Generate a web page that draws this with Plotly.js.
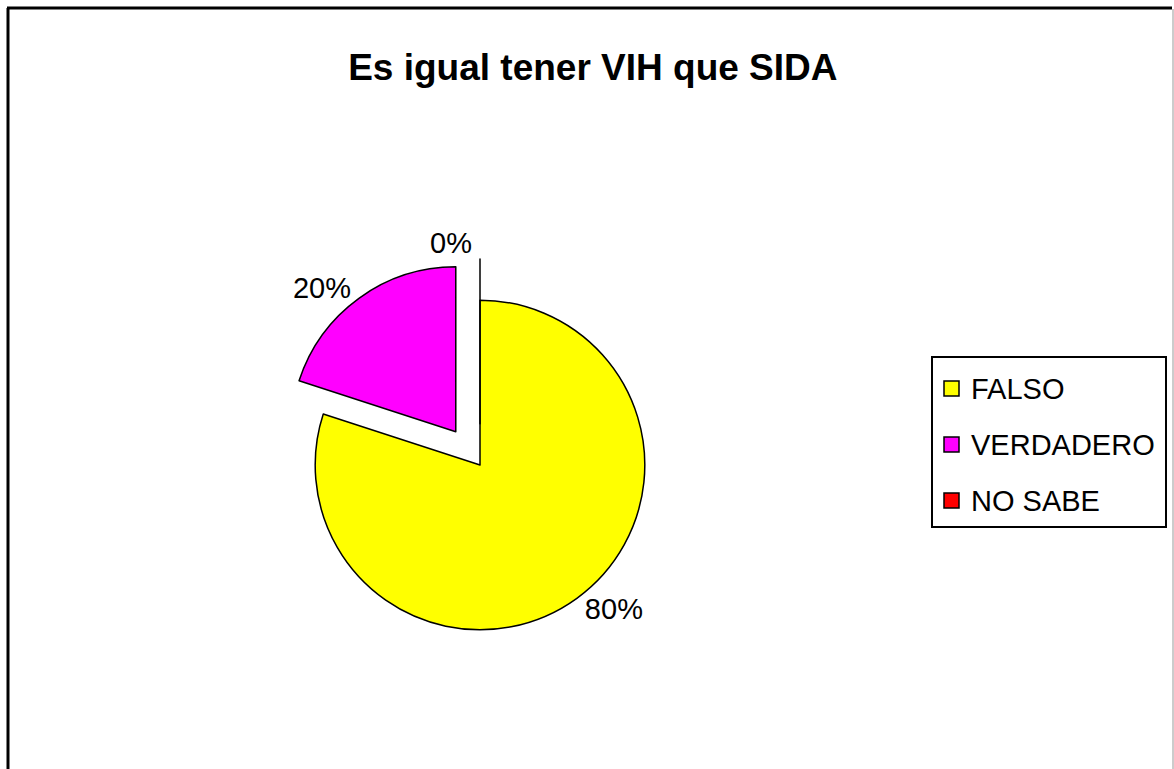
<!DOCTYPE html>
<html>
<head>
<meta charset="utf-8">
<script src="https://cdn.plot.ly/plotly-3.0.1.min.js"></script>
<style>
  html, body { margin: 0; padding: 0; background: #fff; }
  #chart { width: 1174px; height: 769px; }
</style>
</head>
<body>
<div id="chart"></div>
<script>
// Data
const labels = ["FALSO", "VERDADERO", "NO SABE"];
const values = [80, 20, 0];
const pulls = [0, 0.25, 0.25];
const colors = ["#FFFF00", "#FF00FF", "#FF0000"];
const titleText = "Es igual tener VIH que SIDA";

const W = 1174, H = 769;
const px = x => x / W;
const py = y => 1 - y / H;

const trace = {
  type: "pie",
  labels: labels,
  values: values,
  pull: pulls,
  sort: false,
  direction: "clockwise",
  rotation: 0,
  marker: { colors: colors, line: { color: "#000000", width: 1.5 } },
  textinfo: "percent",
  texttemplate: "%{percent:.0%}",
  textposition: "outside",
  outsidetextfont: { family: "Liberation Sans, Arial, sans-serif", size: 29, color: "#000" },
  domain: { x: [px(480 - 206), px(480 + 206)], y: [py(465 + 206), py(465 - 206)] },
  showlegend: false,
  hoverinfo: "label+percent"
};

// Legend drawn from labels/colors arrays
const shapes = [
  // outer frame
  { type: "line", xref: "paper", yref: "paper", x0: px(7), x1: px(1172), y0: py(8), y1: py(8), line: { color: "#000", width: 3 } },
  { type: "line", xref: "paper", yref: "paper", x0: px(8), x1: px(8), y0: py(8), y1: py(775), line: { color: "#000", width: 3 } },
  { type: "line", xref: "paper", yref: "paper", x0: px(1173), x1: px(1173), y0: py(9), y1: py(775), line: { color: "#bbbbbb", width: 1.5 } },
  // legend box
  { type: "rect", xref: "paper", yref: "paper", x0: px(932), x1: px(1166), y0: py(357), y1: py(527), line: { color: "#000", width: 2 }, fillcolor: "rgba(0,0,0,0)" }
];
const annotations = [];
labels.forEach((lab, i) => {
  const cy = 388 + i * 56;
  shapes.push({ type: "rect", xref: "paper", yref: "paper",
    x0: px(944), x1: px(959), y0: py(cy - 7), y1: py(cy + 8),
    fillcolor: colors[i], line: { color: "#000", width: 1.5 } });
  annotations.push({ xref: "paper", yref: "paper", x: px(969), y: py(cy + 1),
    xanchor: "left", yanchor: "middle", showarrow: false, text: lab,
    font: { family: "Liberation Sans, Arial, sans-serif", size: 29, color: "#000" } });
});

const layout = {
  width: W, height: H,
  margin: { l: 0, r: 0, t: 0, b: 0 },
  paper_bgcolor: "#ffffff",
  title: { text: "<b>" + titleText + "</b>", x: 0.505, xanchor: "center", y: py(67), yanchor: "middle",
    font: { family: "Liberation Sans, Arial, sans-serif", size: 37, color: "#000" } },
  showlegend: false,
  shapes: shapes,
  annotations: annotations
};

Plotly.newPlot("chart", [trace], layout, { displayModeBar: false, staticPlot: true });
</script>
</body>
</html>
